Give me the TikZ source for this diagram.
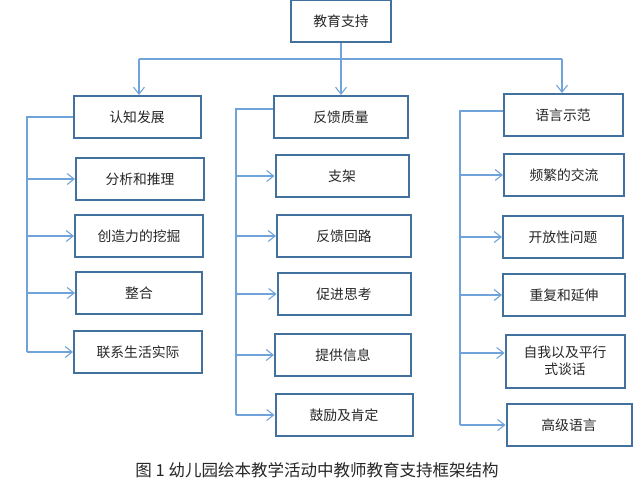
\documentclass[tikz,border=0pt]{standalone}
\usepackage{fontspec}
\newfontfamily\cjk{Noto Sans CJK SC}
\usetikzlibrary{arrows.meta}

\definecolor{boxblue}{HTML}{41719C}
\definecolor{lineblue}{HTML}{6FA3DA}
\definecolor{txtgray}{HTML}{262626}

\tikzset{
  box/.style={draw=boxblue, line width=2pt, minimum height=42pt, inner sep=2pt,
    text=txtgray, font=\cjk\fontsize{13.8}{17}\selectfont, align=center},
  link/.style={draw=lineblue, line width=1.1pt},
  arr/.style={link, -{Straight Barb[length=7pt,width=11pt]}}
}

\begin{document}
\begin{tikzpicture}[x=1pt,y=-1pt]
            \useasboundingbox (0,0) rectangle (639,496);

            % Root node
            \node[box, minimum width=100pt] (root) at (341,21) {教育支持};

            % Second stage nodes
            \node[box, minimum width=127pt] (cog) at (137,117) {认知发展};
            \node[box, minimum width=134pt] (fb) at (341,117) {反馈质量};
            \node[box, minimum width=119pt] (lang) at (563,115) {语言示范};

            \coordinate (busL) at (139,59);
            \coordinate (busR) at (562,59);
            \draw[link] (root.south) -- (root.south |- busL);
            \draw[link] (busL) -- (busR);
            \draw[arr] (busL) -- (busL |- cog.north);
            \draw[arr] (root.south |- busL) -- (fb.north);
            \draw[arr] (busR) -- (busR |- lang.north);

            % Left column nodes
            \node[box, minimum width=128pt] (c1) at (140,179) {分析和推理};
            \node[box, minimum width=128pt] (c2) at (139,236) {创造力的挖掘};
            \node[box, minimum width=126pt] (c3) at (139,293) {整合};
            \node[box, minimum width=128pt] (c4) at (138,352) {联系生活实际};

            \coordinate (cogbar) at (27,117);
            \draw[link] (cog.west) -- (cogbar) -- (cogbar |- c4.west);
            \foreach \n in {c1,c2,c3,c4}
              \draw[arr] (cogbar |- \n.west) -- (\n.west);

            % Middle column nodes
            \node[box, minimum width=133pt] (f1) at (342,176) {支架};
            \node[box, minimum width=134pt] (f2) at (344,236) {反馈回路};
            \node[box, minimum width=133pt] (f3) at (344,294) {促进思考};
            \node[box, minimum width=136pt] (f4) at (343,355) {提供信息};
            \node[box, minimum width=137pt] (f5) at (344,415) {鼓励及肯定};

            \coordinate (fbbar) at (236,109);
            \draw[link] (fb.west |- fbbar) -- (fbbar) -- (fbbar |- f5.west);
            \foreach \n in {f1,f2,f3,f4,f5}
              \draw[arr] (fbbar |- \n.west) -- (\n.west);

            % Right column nodes
            \node[box, minimum width=120pt] (l1) at (564,175) {频繁的交流};
            \node[box, minimum width=120pt] (l2) at (563,237) {开放性问题};
            \node[box, minimum width=122pt] (l3) at (564,295) {重复和延伸};
            \node[box, minimum width=119pt, minimum height=53pt, text width=100pt] (l4) at (565,361) {自我以及平行\\式谈话};
            \node[box, minimum width=125pt] (l5) at (569,425) {高级语言};

            \coordinate (langbar) at (460,111);
            \draw[link] (lang.west |- langbar) -- (langbar) -- (langbar |- l5.west);
            \draw[arr] (langbar |- l1.west) -- (l1.west);
            \draw[arr] (langbar |- l2.west) -- (l2.west);
            \draw[arr] (langbar |- l3.west) -- (l3.west);
            \draw[arr] (langbar |- 0,353) -- (l4.west |- 0,353);
            \draw[arr] (langbar |- l5.west) -- (l5.west);

            % Caption
            \node[text=txtgray, font=\cjk\fontsize{16.5}{19}\selectfont] (cap) at (317,470) {图 1 幼儿园绘本教学活动中教师教育支持框架结构};
        \end{tikzpicture}
\end{document}
